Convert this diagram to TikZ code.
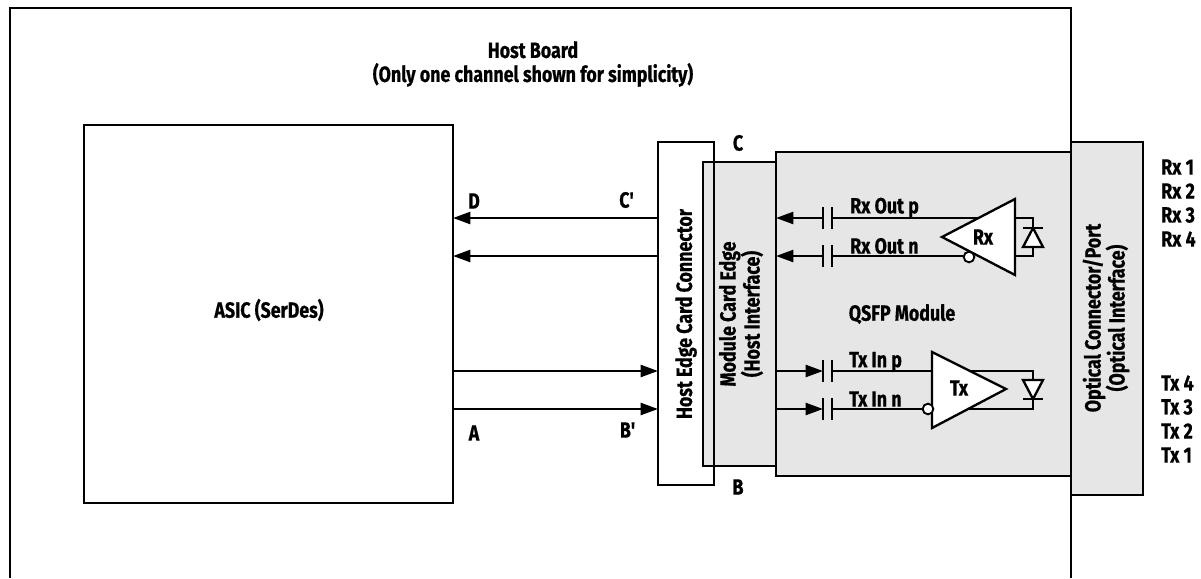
\documentclass[tikz,border=0pt]{standalone}
\usepackage{fontspec}
\setmainfont{Fira Sans}[FakeStretch=0.81, BoldFeatures={FakeBold=0.6}]
\usetikzlibrary{arrows.meta}
\definecolor{modgray}{HTML}{E6E6E6}
\begin{document}
\begin{tikzpicture}[x=0.75pt,y=-0.75pt,
  every node/.style={font=\bfseries\fontsize{16.5}{18}\selectfont, inner sep=0pt},
  thick line/.style={line width=1.75pt},
  sig/.style={line width=1.75pt, -{Triangle[length=13pt,width=9pt]}},
  wire/.style={line width=1.75pt},
  box/.style={line width=1.75pt, draw=black},
  gbox/.style={line width=1.75pt, draw=black, fill=modgray},
  amp/.style={line width=1.75pt, draw=black, fill=white, line join=miter},
  bubble/.style={circle, draw=black, fill=white, line width=1.4pt, minimum size=8pt},
  lbl/.style={anchor=center},
  rlbl/.style={rotate=90, align=center, anchor=center}
]
\useasboundingbox (0,0) rectangle (1201,578);
% host board outline
\draw[thick line] (10,578) -- (10,8) -- (1071,8) -- (1071,578);
\node[lbl, align=center] (hb) at (533,64) {Host Board\\(Only one channel shown for simplicity)};

% ASIC
\draw[box] (84,125) rectangle (453,503);
\coordinate (asicR1) at (453,218);
\coordinate (asicR2) at (453,256);
\coordinate (asicT1) at (453,371);
\coordinate (asicT2) at (453,409);
\node[lbl] (asic) at (269,310) {ASIC (SerDes)};

% Host edge card connector
\draw[box, fill=white] (658,142) rectangle (714,485);
\coordinate (hcR1) at (658,218);
\coordinate (hcR2) at (658,256);
\coordinate (hcT1) at (658,371);
\coordinate (hcT2) at (658,409);

% QSFP module
\draw[gbox] (776,152) rectangle (1071,476);
% module card edge
\draw[gbox] (703,162) rectangle (776,466);
% host connector right edge over gray
\draw[thick line] (714,162) -- (714,466);
\node[rlbl] (hec) at (686,314) {Host Edge Card Connector};
\node[rlbl] (mce) at (741,314) {Module Card Edge\\(Host Interface)};
\node[lbl] (qsfp) at (902,314) {QSFP Module};

% optical connector
\draw[gbox] (1071,142) rectangle (1143,495);
\node[rlbl] (opt) at (1106,318) {Optical Connector/Port\\(Optical Interface)};

% host signals
\draw[sig] (hcR1) -- (asicR1);
\draw[sig] (hcR2) -- (asicR2);
\draw[sig] (asicT1) -- (hcT1);
\draw[sig] (asicT2) -- (hcT2);
\node[lbl] (lD) at (474,201) {D};
\node[lbl] (lCp) at (627,200) {C\textquotesingle};
\node[lbl] (lA) at (474,433) {A};
\node[lbl] (lBp) at (628,430) {B\textquotesingle};
\node[lbl] (lC) at (738,143) {C};
\node[lbl] (lB) at (738,487) {B};

% module edge coordinates
\coordinate (meR1) at (776,218);
\coordinate (meR2) at (776,256);
\coordinate (meT1) at (776,371);
\coordinate (meT2) at (776,409);
% capacitors
\foreach \n/\y in {r1/218,r2/256,t1/371,t2/409}{
  \coordinate (c\n L) at (823,\y);
  \coordinate (c\n R) at (832,\y);
  \draw[wire] (823,\y-11) -- (823,\y+11);
  \draw[wire] (832,\y-11) -- (832,\y+11);
}
\draw[sig] (cr1L) -- (meR1);
\draw[sig] (cr2L) -- (meR2);
\draw[sig] (meT1) -- (ct1L);
\draw[sig] (meT2) -- (ct2L);

% Rx amplifier
\coordinate (rxTip) at (942,237);
\coordinate (rxTop) at (1015,199);
\coordinate (rxBot) at (1015,275);
\coordinate (rxDa) at (1033,218);
\coordinate (rxDb) at (1033,256);
\draw[wire] (cr1R) -- (990,218);
\draw[wire] (cr2R) -- (966,256);
\draw[wire] (1000,218) -| (rxDa) -- (1033,227);
\draw[wire] (1000,256) -| (rxDb) -- (1033,247);
\draw[amp] (rxTip) -- (rxTop) -- (rxBot) -- cycle;
\node[bubble] (rxb) at (969,257) {};
\draw[wire, fill=white, line join=miter] (1023,247) -- (1043,247) -- (1033,228) -- cycle;
\draw[wire] (1023,228) -- (1043,228);
\node[lbl] (rxl) at (983,237) {Rx};
\node[anchor=west] (rop) at (850,208) {Rx Out p};
\node[anchor=west] (ron) at (850,246) {Rx Out n};

% Tx amplifier
\coordinate (txL1) at (932,352);
\coordinate (txL2) at (932,428);
\coordinate (txTip) at (1006,389);
\coordinate (txDa) at (1033,371);
\coordinate (txDb) at (1033,409);
\draw[wire] (ct1R) -- (932,371);
\draw[wire] (ct2R) -- (928,409);
\draw[wire] (960,371) -| (txDa) -- (1033,380);
\draw[wire] (960,409) -| (txDb) -- (1033,400);
\draw[amp] (txL1) -- (txTip) -- (txL2) -- cycle;
\node[bubble] (txb) at (928,409) {};
\draw[wire, fill=white, line join=miter] (1023,380) -- (1043,380) -- (1033,399) -- cycle;
\draw[wire] (1023,399) -- (1043,399);
\node[lbl] (txl) at (959,388) {Tx};
\node[anchor=west] (tip) at (849,362) {Tx In p};
\node[anchor=west] (tin) at (849,399) {Tx In n};

% optical channel labels
\foreach \t/\y in {Rx 1/167,Rx 2/191,Rx 3/215,Rx 4/239,Tx 4/383,Tx 3/407,Tx 2/431,Tx 1/455}{
  \node[anchor=west] at (1161,\y) {\t};
}
\end{tikzpicture}
\end{document}
